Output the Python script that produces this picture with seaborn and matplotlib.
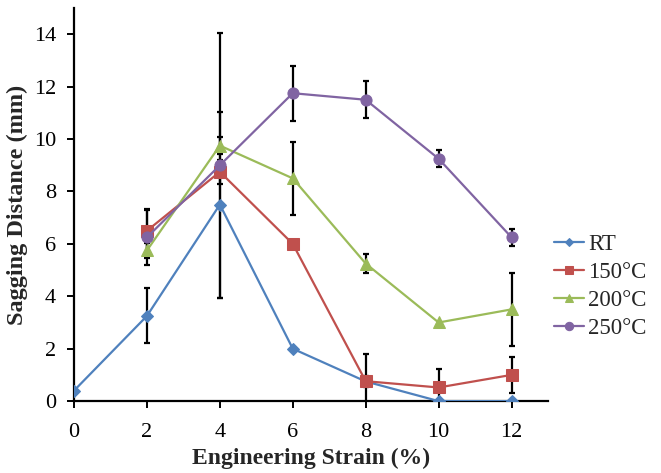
import numpy as np
import pandas as pd
import matplotlib
matplotlib.use("Agg")
import matplotlib.pyplot as plt
import seaborn as sns

strain = [0, 2, 4, 6, 8, 10, 12]
series_names = ["RT", "150°C", "200°C", "250°C"]

rt_vals = [0.4, 3.25, 7.5, 2.0, 0.75, 0.0, 0.0]
rt_err = [0.0, 1.05, 3.55, 0.0, 0.2, 0.0, 0.0]

t150_x = [2, 4, 6, 8, 10, 12]
t150_vals = [6.5, 8.75, 6.0, 0.76, 0.52, 1.0]
t150_err = [0.83, 0.46, 0.0, 1.05, 0.7, 0.7]

t200_x = [2, 4, 6, 8, 10, 12]
t200_vals = [5.75, 9.75, 8.5, 5.25, 3.0, 3.5]
t200_err = [0.3, 0.33, 1.4, 0.37, 0.0, 1.4]

t250_x = [2, 4, 6, 8, 10, 12]
t250_vals = [6.25, 9.0, 11.75, 11.5, 9.25, 6.25]
t250_err = [1.05, 5.05, 1.05, 0.7, 0.33, 0.33]

colors = ["#4F81BD", "#C0504D", "#9BBB59", "#8064A2"]
markers = ["D", "s", "^", "o"]
msizes = [6, 8, 8, 8]

xs = [strain, t150_x, t200_x, t250_x]
vals = [rt_vals, t150_vals, t200_vals, t250_vals]
errs = [rt_err, t150_err, t200_err, t250_err]

rows = []
for name, x, v, e in zip(series_names, xs, vals, errs):
    for xi, vi, ei in zip(x, v, e):
        rows.append({"strain": xi, "value": vi, "err": ei, "series": name})
df = pd.DataFrame(rows)

sns.set_style("white")
plt.rcParams["font.family"] = ["Liberation Serif", "DejaVu Serif"]

fig = plt.figure(figsize=(6.61, 4.73), dpi=100)
ax = fig.add_axes([0.112, 0.152, 0.717, 0.831])

for name in series_names:
    sub = df[df["series"] == name]
    sub = sub[sub["err"] > 0]
    ax.errorbar(sub["strain"], sub["value"], yerr=sub["err"], fmt="none",
                ecolor="black", elinewidth=1.6, capsize=2.5, capthick=1.6, zorder=2)

for i, name in enumerate(series_names):
    sub = df[df["series"] == name]
    sns.lineplot(data=sub, x="strain", y="value", ax=ax, color=colors[i],
                 marker=markers[i], markersize=msizes[i], markeredgecolor=colors[i],
                 linewidth=1.6, label=name, zorder=3, errorbar=None)

ax.set_xlim(0, 13)
ax.set_ylim(0, 15)
ax.set_xticks(range(0, 13, 2))
ax.set_yticks(range(0, 15, 2))
for s in ["top", "right"]:
    ax.spines[s].set_visible(False)
for s in ["left", "bottom"]:
    ax.spines[s].set_color("black")
    ax.spines[s].set_linewidth(1.6)
ax.tick_params(axis="both", direction="out", length=5, width=1.4, colors="black",
               labelsize=16, left=True, bottom=True)
ax.tick_params(axis="x", pad=11)
ax.tick_params(axis="y", pad=8)
ax.set_xlabel("Engineering Strain (%)", fontsize=17, fontweight="bold", labelpad=4)
ax.set_ylabel("Sagging Distance (mm)", fontsize=17.5, fontweight="bold", labelpad=4)

leg = ax.legend(loc="center left", bbox_to_anchor=(0.838, 0.395),
                bbox_transform=fig.transFigure, frameon=False, fontsize=16.5,
                handlelength=1.3, handletextpad=0.2, labelspacing=0.3,
                markerscale=0.75, borderaxespad=0, borderpad=0)

fig.savefig("out.png", dpi=100)
